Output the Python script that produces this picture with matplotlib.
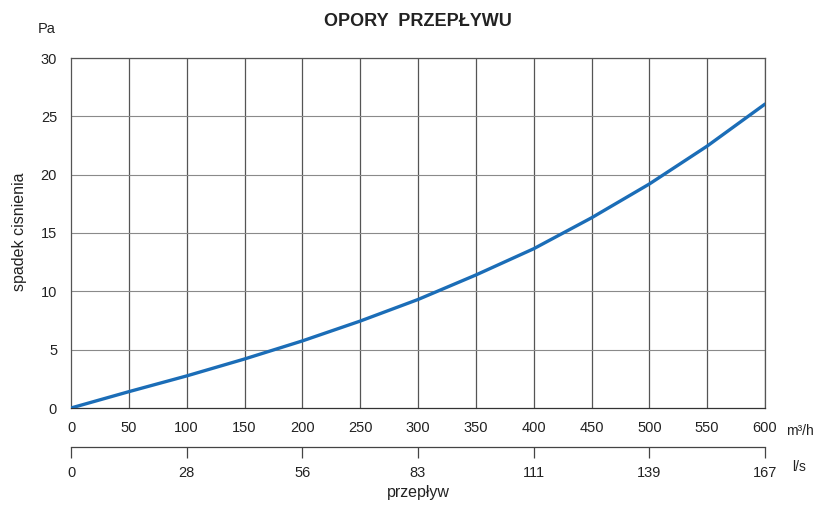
import matplotlib.pyplot as plt

# flow [m3/h] and pressure drop [Pa]
flow = [0, 50, 100, 150, 200, 250, 300, 350, 400, 450, 500, 550, 600]
dp = [0, 1.4, 2.75, 4.2, 5.75, 7.45, 9.3, 11.4, 13.65, 16.3, 19.2, 22.45, 26.05]

m3h_ticks = [0, 50, 100, 150, 200, 250, 300, 350, 400, 450, 500, 550, 600]
ls_pos = [0, 100, 200, 300, 400, 500, 600]
ls_labels = ['0', '28', '56', '83', '111', '139', '167']
y_ticks = [0, 5, 10, 15, 20, 25, 30]

plt.rcParams['font.family'] = ['Liberation Sans', 'DejaVu Sans']
txt = '#222222'

fig = plt.figure(figsize=(8.16, 5.05), dpi=100)
ax = fig.add_axes([71 / 816, 1 - 408 / 505, 694 / 816, 350 / 505])

ax.plot(flow, dp, color='#1b6db7', lw=2.4, solid_capstyle='round',
        solid_joinstyle='round', zorder=3)

ax.set_xlim(0, 600)
ax.set_ylim(0, 30)
ax.set_xticks(m3h_ticks)
ax.set_yticks(y_ticks)
for x in m3h_ticks[1:]:
    ax.axvline(x, color='#555555', lw=0.9, zorder=1)
for y in y_ticks[1:]:
    ax.axhline(y, color='#8a8a8a', lw=0.8, zorder=1)
for s in ax.spines.values():
    s.set_color('#555555')
    s.set_linewidth(0.9)
ax.spines['bottom'].set_color('#333333')
ax.tick_params(length=0, labelsize=10.5, labelcolor=txt)
ax.tick_params(axis='x', pad=9)
ax.tick_params(axis='y', pad=10)

# second scale in l/s
sec = ax.secondary_xaxis(-39 / 350)
sec.set_xticks(ls_pos, labels=ls_labels)
sec.tick_params(length=8, width=0.9, color='#444444', labelsize=10.5, labelcolor=txt, pad=6)
sec.spines['bottom'].set_color('#444444')
sec.spines['bottom'].set_linewidth(0.9)

fig.text(418 / 816, 1 - 22 / 505, 'OPORY  PRZEPŁYWU', ha='center', va='center',
         fontsize=13, fontweight='bold', color=txt)
fig.text(47 / 816, 1 - 29 / 505, 'Pa', ha='center', va='center', fontsize=10.5, color=txt)
fig.text(20 / 816, 1 - 232 / 505, 'spadek cisnienia', ha='center', va='center',
         rotation=90, fontsize=11.5, color=txt)
fig.text(786 / 816, 1 - 431 / 505, 'm³/h', ha='left', va='center', fontsize=10, color=txt)
fig.text(792 / 816, 1 - 467 / 505, 'l/s', ha='left', va='center', fontsize=10, color=txt)
fig.text(418 / 816, 1 - 493 / 505, 'przepływ', ha='center', va='center', fontsize=11.5, color=txt)

fig.savefig('out.png', dpi=100)
